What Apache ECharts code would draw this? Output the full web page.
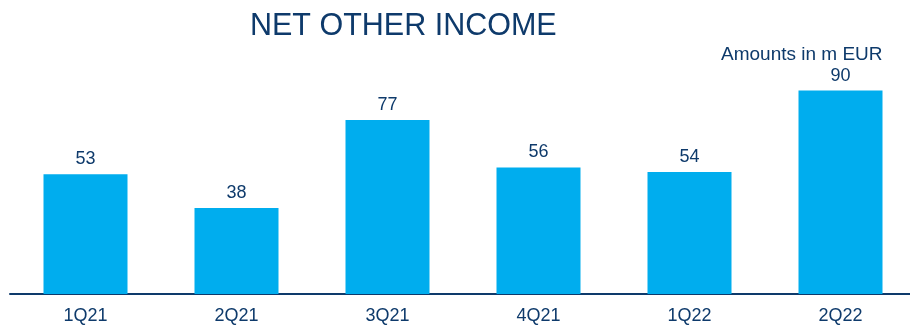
<!DOCTYPE html>
<html>
<head>
<meta charset="utf-8">
<style>
  html, body { margin: 0; padding: 0; background: #ffffff; overflow: hidden; }
  /* drawing surface is a few pixels wider than the window so the last band is full width */
  #chart { width: 916px; height: 325px; }
</style>
<script src="https://cdn.jsdelivr.net/npm/echarts@6/dist/echarts.min.js"></script>
</head>
<body>
<div id="chart"></div>
<script>
// Quarterly net other income, m EUR
const quarters = ['1Q21', '2Q21', '3Q21', '4Q21', '1Q22', '2Q22'];
const netOtherIncome = [53, 38, 77, 56, 54, 90];

const navy = '#0e3a6b';
const barBlue = '#00adee';
const fontFamily = '"Liberation Sans", Arial, sans-serif';

const chart = echarts.init(document.getElementById('chart'), null, { renderer: 'canvas' });

chart.setOption({
  animation: false,
  backgroundColor: '#ffffff',
  title: [
    {
      text: 'NET OTHER INCOME',
      left: 245,
      top: 6,
      textStyle: { color: navy, fontSize: 30.5, fontWeight: 'normal', fontFamily }
    },
    {
      text: 'Amounts in m EUR',
      left: 716,
      top: 40,
      textStyle: { color: navy, fontSize: 19, fontWeight: 'normal', fontFamily }
    }
  ],
  grid: { left: 10, right: 0, top: 68, bottom: 31, containLabel: false },
  xAxis: {
    type: 'category',
    data: quarters,
    axisLine: { show: true, lineStyle: { color: navy, width: 2 } },
    axisTick: { show: false },
    axisLabel: { color: navy, fontSize: 18, fontFamily, margin: 13 }
  },
  yAxis: {
    type: 'value',
    min: 0,
    max: 100,
    show: false,
    splitLine: { show: false }
  },
  series: [
    {
      type: 'bar',
      data: netOtherIncome,
      barWidth: 84,
      itemStyle: { color: barBlue },
      label: {
        show: true,
        position: 'top',
        distance: 6,
        color: navy,
        fontSize: 18,
        fontFamily
      }
    }
  ]
});
</script>
</body>
</html>
